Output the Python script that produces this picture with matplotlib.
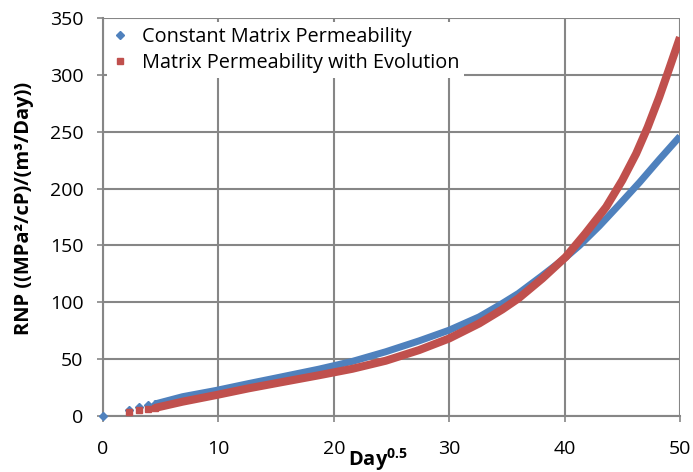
import matplotlib
matplotlib.use('Agg')
import matplotlib.pyplot as plt
from matplotlib.lines import Line2D

plt.rcParams['font.family'] = ['Open Sans', 'DejaVu Sans']
plt.rcParams['mathtext.fontset'] = 'custom'
plt.rcParams['mathtext.rm'] = 'Open Sans'
plt.rcParams['mathtext.bf'] = 'Open Sans:bold'

# Day^0.5 and RNP values, constant matrix permeability
x_const = [0, 2.24, 3.16, 3.87, 4.47, 6.9, 9.8, 12.6, 15.5, 18.7, 21.6, 24.5,
           27.4, 30.0, 32.6, 34.6, 36.0, 38.0, 40.1, 41.3, 43.0, 44.7, 46.5,
           48.2, 50.0]
y_const = [0, 5.5, 7.5, 9.3, 10.5, 17.0, 22.5, 28.5, 34.5, 41.2, 48.0, 56.5,
           66.1, 75.5, 87.2, 99.0, 107.8, 123.0, 139.5, 150.0, 167.0, 185.5,
           205.5, 225.5, 246.0]

# matrix permeability with evolution
x_evol = [2.24, 3.16, 3.87, 4.47, 6.9, 9.8, 12.6, 15.5, 18.7, 21.6, 24.5, 27.4,
          30.0, 32.6, 34.6, 36.0, 38.07, 40.1, 41.8, 43.6, 45.0, 46.2, 47.2,
          48.2, 49.05, 50.0]
y_evol = [3.8, 5.3, 6.1, 7.0, 12.6, 18.4, 24.3, 29.8, 35.8, 41.5, 48.6, 58.0,
          68.2, 81.4, 93.7, 103.4, 120.9, 139.9, 160.5, 183.8, 207.3, 230.7,
          254.0, 280.4, 305.0, 333.0]

labels = ['Constant Matrix Permeability', 'Matrix Permeability with Evolution']
x_ticks = [0, 10, 20, 30, 40, 50]
y_ticks = [0, 50, 100, 150, 200, 250, 300, 350]

blue = '#4F81BD'
red = '#C0504D'
grid = '#868686'

fig = plt.figure(figsize=(6.93, 4.72), dpi=100)
ax = fig.add_axes([103 / 693, 56 / 472, 577 / 693, 398 / 472])

# the dense marker runs merge into a solid band, drawn as a thick line;
# only the first few, still separate markers are drawn on their own
ax.plot(x_const[4:], y_const[4:], color=blue, lw=5.0, solid_capstyle='butt', zorder=3)
ax.plot(x_const[:5], y_const[:5], ls='none', marker='D', ms=4.5, color=blue, mec=blue,
        zorder=3, clip_on=False)
ax.plot(x_evol[3:], y_evol[3:], color=red, lw=5.8, solid_capstyle='butt', zorder=4)
ax.plot(x_evol[:4], y_evol[:4], ls='none', marker='s', ms=5.0, color=red, mec=red, zorder=4)

ax.set_xlim(0, 50)
ax.set_ylim(0, 350)
ax.set_xticks(x_ticks)
ax.set_yticks(y_ticks)
ax.grid(True, color=grid, lw=1.5, zorder=0)
ax.set_axisbelow(True)
for side in ['top', 'right']:
    ax.spines[side].set_visible(False)
for side in ['left', 'bottom']:
    ax.spines[side].set_color(grid)
    ax.spines[side].set_linewidth(1.5)
ax.tick_params(axis='both', direction='out', length=4, width=1.2, color=grid,
               labelsize=14, labelcolor='black')
ax.tick_params(axis='y', pad=10)
ax.tick_params(axis='x', pad=13)

handles = [Line2D([], [], ls='none', marker='D', ms=4, color=blue),
           Line2D([], [], ls='none', marker='s', ms=5, color=red)]
leg = ax.legend(handles, labels, loc='upper left', bbox_to_anchor=(0.0, 1.0),
                fontsize=14.3, frameon=True, framealpha=1, edgecolor='none',
                facecolor='white', fancybox=False, handlelength=0.8,
                handletextpad=0.7, borderpad=0.25, labelspacing=0.3,
                borderaxespad=0.2)
leg.set_zorder(5)

fig.text(24 / 693, 1 - 208 / 472, 'RNP ((MPa²/cP)/(m³/Day))', rotation=90,
         ha='center', va='center', fontsize=14.5, fontweight='bold')
fig.text(378 / 693, 1 - 460 / 472, r'$\mathbf{Day^{0.5}}$', ha='center',
         va='center', fontsize=14.5)

fig.savefig('out.png', dpi=100)
